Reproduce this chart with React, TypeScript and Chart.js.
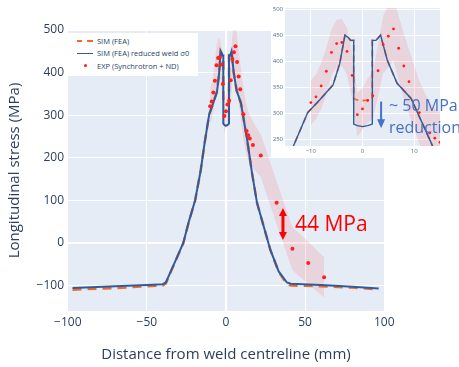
import React, { useEffect, useRef } from "react";
import { Chart, registerables } from "chart.js";

Chart.register(...registerables);

// ---- data ----
const simX = [-97, -70, -50, -40, -38, -33, -27, -23.5, -19.5, -16, -13.5, -10.6, -8.3, -5.7, -4.4, -3.4, -2.7, -2.3, -1.7, -1.7, -1, 0, 1, 1.9, 1.9, 2.6, 3.5, 4.8, 6.7, 9.4, 13.3, 16.4, 19.6, 23.8, 28, 33.3, 38.5, 41, 60, 80, 96.5];
const simFeaY = [-110, -106, -102, -100, -95, -52, -1, 49, 100, 170, 235, 302, 326, 355, 396, 450, 445, 440, 440, 328, 326, 325, 326, 328, 440, 440, 450, 402, 358, 329, 244, 165, 94, 39, -16, -68, -97, -100, -102, -105, -109];
const simReducedY = [-106, -102, -99, -97, -93, -51, 0, 50, 100, 170, 235, 302, 326, 355, 396, 450, 445, 440, 440, 280, 277, 275, 277, 280, 440, 440, 450, 402, 358, 329, 244, 165, 94, 39, -16, -67, -93, -96, -99, -103, -107];
const expX = [-10, -9, -8, -7, -6, -5, -4, -3, -2, -1, 0, 1, 2, 3, 4, 5, 6, 7, 8, 9, 11, 13, 14, 15, 17, 22, 32, 42, 52, 62];
const expY = [321, 332, 353, 381, 417, 434, 436, 419, 373, 298, 309, 325, 334, 382, 432, 448, 462, 425, 391, 361, 302, 263, 253, 245, 230, 205, 94, -14, -47, -81];
const expErr = [43, 43, 44, 45, 45, 45, 45, 45, 45, 42, 40, 42, 45, 50, 55, 60, 60, 62, 62, 62, 60, 58, 57, 56, 55, 50, 50, 50, 50, 47];

const mainXTicks = [-100, -50, 0, 50, 100];
const mainYTicks = [-100, 0, 100, 200, 300, 400, 500];
const insetXTicks = [-10, 0, 10];
const insetYTicks = [250, 300, 350, 400, 450, 500];

const legendLabels = ["SIM (FEA)", "SIM (FEA) reduced weld \u03c30", "EXP (Synchrotron + ND)"];

// ---- styles ----
const FONT = "'Open Sans', sans-serif";
const INK = "#2a3f5f";
const BLUE = "#2f5c9c";
const ORANGE = "#ee6b2d";
const RED = "#ff1f1f";
const BAND = "rgba(255,0,0,0.1)";
const PLOT_BG = "#E5ECF6";
const NOTE_BLUE = "#4472C4";

Chart.defaults.font.family = FONT;

const pts = (xs: number[], ys: number[]) => xs.map((x, i) => ({ x, y: ys[i] }));
const minus = (v: any) => String(v).replace("-", "\u2212");

function drawArrow(ctx: CanvasRenderingContext2D, x: number, yA: number, yB: number, color: string, lw: number, headW: number, headL: number, double: boolean) {
  const dir = Math.sign(yB - yA) || 1;
  ctx.save();
  ctx.strokeStyle = color;
  ctx.fillStyle = color;
  ctx.lineWidth = lw;
  ctx.beginPath();
  ctx.moveTo(x, double ? yA + dir * headL * 0.8 : yA);
  ctx.lineTo(x, yB - dir * headL * 0.8);
  ctx.stroke();
  const head = (tip: number, d: number) => {
    ctx.beginPath();
    ctx.moveTo(x, tip);
    ctx.lineTo(x - headW / 2, tip - d * headL);
    ctx.lineTo(x + headW / 2, tip - d * headL);
    ctx.closePath();
    ctx.fill();
  };
  head(yB, dir);
  if (double) head(yA, -dir);
  ctx.restore();
}

function makePlugins(paper: string | null, arrows: any[]) {
  return [
    {
      id: "plotBg",
      beforeDraw(chart: any) {
        const { ctx, chartArea: a, width, height } = chart;
        ctx.save();
        if (paper) {
          ctx.fillStyle = paper;
          ctx.fillRect(0, 0, width, height);
        }
        ctx.fillStyle = PLOT_BG;
        ctx.fillRect(a.left, a.top, a.width, a.height);
        ctx.restore();
      },
    },
    {
      id: "arrowNotes",
      afterDatasetsDraw(chart: any) {
        const { ctx, scales } = chart;
        for (const a of arrows) {
          drawArrow(
            ctx,
            scales.x.getPixelForValue(a.x),
            scales.y.getPixelForValue(a.y1),
            scales.y.getPixelForValue(a.y2),
            a.color, a.lw, a.headW, a.headL, a.double
          );
        }
      },
    },
  ];
}

function datasets(scale: number) {
  return [
    {
      type: "scatter",
      label: "EXP",
      data: pts(expX, expY),
      backgroundColor: RED,
      borderWidth: 0,
      pointRadius: 2 * scale,
      order: 0,
    },
    {
      type: "line",
      label: "SIM reduced",
      data: pts(simX, simReducedY),
      borderColor: BLUE,
      borderWidth: 2 * scale,
      pointRadius: 0,
      tension: 0,
      fill: false,
      order: 1,
    },
    {
      type: "line",
      label: "SIM",
      data: pts(simX, simFeaY),
      borderColor: ORANGE,
      borderWidth: 2.5 * scale,
      borderDash: [9 * scale, 6 * scale],
      pointRadius: 0,
      tension: 0,
      fill: false,
      order: 2,
    },
    {
      type: "line",
      label: "upper",
      data: pts(expX, expY.map((v, i) => v + expErr[i])),
      borderWidth: 0,
      borderColor: "rgba(0,0,0,0)",
      backgroundColor: BAND,
      pointRadius: 0,
      tension: 0,
      fill: "+1",
      order: 3,
    },
    {
      type: "line",
      label: "lower",
      data: pts(expX, expY.map((v, i) => v - expErr[i])),
      borderWidth: 0,
      borderColor: "rgba(0,0,0,0)",
      pointRadius: 0,
      tension: 0,
      fill: false,
      order: 4,
    },
  ];
}

const gridOpts = {
  color: "#ffffff",
  lineWidth: (c: any) => (c.tick && c.tick.value === 0 ? 2 : 1),
  drawTicks: false,
};

export default function App() {
  const mainRef = useRef<HTMLCanvasElement>(null);
  const insetRef = useRef<HTMLCanvasElement>(null);

  useEffect(() => {
    const main = new Chart(mainRef.current as HTMLCanvasElement, {
      type: "line",
      data: { datasets: datasets(1) as any },
      options: {
        animation: false,
        responsive: false,
        devicePixelRatio: 1,
        layout: { padding: { left: 0, top: 30, right: 74, bottom: 0 } },
        plugins: { legend: { display: false }, tooltip: { enabled: false } },
        scales: {
          x: {
            type: "linear",
            min: -100.5,
            max: 100.5,
            afterBuildTicks: (s: any) => { s.ticks = mainXTicks.map((v) => ({ value: v })); },
            afterFit: (s: any) => { s.height = 56; },
            grid: gridOpts as any,
            border: { display: false },
            ticks: { color: INK, font: { size: 12, family: FONT }, padding: 4, maxRotation: 0, autoSkip: false, callback: minus },
            title: { display: true, text: "Distance from weld centreline (mm)", color: INK, font: { size: 15, family: FONT }, padding: { top: 0, bottom: 3 } },
          },
          y: {
            type: "linear",
            min: -160,
            max: 500,
            afterBuildTicks: (s: any) => { s.ticks = mainYTicks.map((v) => ({ value: v })); },
            afterFit: (s: any) => { s.width = 67; },
            grid: gridOpts as any,
            border: { display: false },
            ticks: { color: INK, font: { size: 12, family: FONT }, padding: 3, autoSkip: false, callback: minus },
            title: { display: true, text: "Longitudinal stress (MPa)", color: INK, font: { size: 15, family: FONT }, padding: { top: 6, bottom: 0 } },
          },
        },
      },
      plugins: makePlugins(null, [
        { x: 36, y1: 82, y2: 7, color: "#ff0000", lw: 3, headW: 8, headL: 8, double: true },
      ]) as any,
    });

    const inset = new Chart(insetRef.current as HTMLCanvasElement, {
      type: "line",
      data: { datasets: datasets(0.7) as any },
      options: {
        animation: false,
        responsive: false,
        devicePixelRatio: 1,
        layout: { padding: { left: 0, top: 8, right: 19, bottom: 0 } },
        plugins: { legend: { display: false }, tooltip: { enabled: false } },
        scales: {
          x: {
            type: "linear",
            min: -15,
            max: 15,
            afterBuildTicks: (s: any) => { s.ticks = insetXTicks.map((v) => ({ value: v })); },
            afterFit: (s: any) => { s.height = 12; },
            grid: { color: "#ffffff", lineWidth: 1, drawTicks: false },
            border: { display: false },
            ticks: { color: "#596b88", font: { size: 6, family: FONT }, padding: 2, maxRotation: 0, autoSkip: false, callback: minus },
          },
          y: {
            type: "linear",
            min: 238,
            max: 502,
            afterBuildTicks: (s: any) => { s.ticks = insetYTicks.map((v) => ({ value: v })); },
            afterFit: (s: any) => { s.width = 14; },
            grid: { color: "#ffffff", lineWidth: 1, drawTicks: false },
            border: { display: false },
            ticks: { color: "#596b88", font: { size: 6, family: FONT }, padding: 2, autoSkip: false },
          },
        },
      },
      plugins: makePlugins("#ffffff", [
        { x: 3.6, y1: 323, y2: 272, color: NOTE_BLUE, lw: 2, headW: 8, headL: 9, double: false },
      ]) as any,
    });

    return () => {
      main.destroy();
      inset.destroy();
    };
  }, []);

  const legendRow = (top: number, symbol: React.ReactNode, text: string) => (
    <div style={{ position: "absolute", left: 0, top: top - 6, width: 130, height: 12 }}>
      {symbol}
      <span style={{ position: "absolute", left: 29, top: 0, lineHeight: "12px", whiteSpace: "nowrap" }}>{text}</span>
    </div>
  );

  return (
    <div style={{ position: "absolute", left: 0, top: 0, width: 459, height: 367, overflow: "hidden", background: "#ffffff" }}>
      <canvas ref={mainRef} width={459} height={367} style={{ position: "absolute", left: 0, top: 0, width: 459, height: 367 }} />
      <canvas ref={insetRef} width={188} height={158} style={{ position: "absolute", left: 271, top: 0, width: 188, height: 158 }} />
      <div style={{ position: "absolute", left: 68, top: 33, width: 130, height: 43, background: "#ffffff", fontFamily: FONT, fontSize: 7.5, color: INK }}>
        {legendRow(7.7, (
          <>
            <div style={{ position: "absolute", left: 9, top: 5, width: 5, height: 2, background: ORANGE }} />
            <div style={{ position: "absolute", left: 19, top: 5, width: 6, height: 2, background: ORANGE }} />
          </>
        ), legendLabels[0])}
        {legendRow(20.3, (
          <div style={{ position: "absolute", left: 9, top: 5.25, width: 16, height: 1.5, background: BLUE }} />
        ), legendLabels[1])}
        {legendRow(32.7, (
          <div style={{ position: "absolute", left: 15.5, top: 4.5, width: 3, height: 3, borderRadius: 2, background: RED }} />
        ), legendLabels[2])}
      </div>
      <div style={{ position: "absolute", left: 295, top: 213, fontFamily: FONT, fontSize: 21, lineHeight: "21px", color: "#ff0000", whiteSpace: "nowrap" }}>
        44 MPa
      </div>
      <div style={{ position: "absolute", left: 389, top: 93.5, fontFamily: FONT, fontSize: 16, lineHeight: "22px", color: NOTE_BLUE, whiteSpace: "nowrap" }}>
        <div>~ 50 MPa</div>
        <div>reduction</div>
      </div>
    </div>
  );
}
